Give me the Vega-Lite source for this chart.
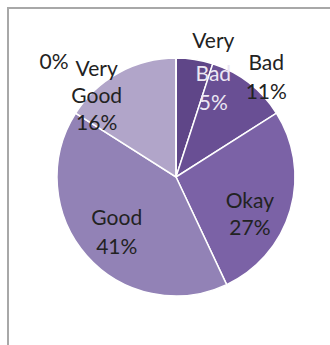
{
  "$schema": "https://vega.github.io/schema/vega-lite/v6.json",
  "width": 336,
  "height": 338,
  "autosize": {"type": "none"},
  "padding": {"left": 8, "top": 8, "right": -14, "bottom": -1},
  "background": "#ffffff",
  "view": {"stroke": "#a8a8a8", "strokeWidth": 2, "fill": "#ffffff"},
  "config": {
    "view": {"stroke": "#a8a8a8", "strokeWidth": 2},
    "text": {"font": "Lato", "fontSize": 21, "lineBreak": " ", "lineHeight": 28, "fill": "#222222", "baseline": "middle", "align": "center"}
  },
  "data": {
    "values": [
      {"rating": "Very Bad", "pct": 5, "rank": 1},
      {"rating": "Bad", "pct": 11, "rank": 2},
      {"rating": "Okay", "pct": 27, "rank": 3},
      {"rating": "Good", "pct": 41, "rank": 4},
      {"rating": "Very Good", "pct": 16, "rank": 5},
      {"rating": "", "pct": 0, "rank": 6}
    ]
  },
  "transform": [
    {"calculate": "datum.rating == '' ? datum.pct + '%' : datum.rating + ' ' + datum.pct + '%'", "as": "label"},
    {"calculate": "split(datum.rating, ' ')[0]", "as": "first"},
    {"calculate": "split(datum.rating, ' ')[1] + ' ' + datum.pct + '%'", "as": "rest"}
  ],
  "encoding": {
    "theta": {"field": "pct", "type": "quantitative", "stack": true},
    "order": {"field": "rank", "type": "quantitative"},
    "color": {
      "field": "rating",
      "type": "nominal",
      "legend": null,
      "scale": {
        "domain": ["Very Bad", "Bad", "Okay", "Good", "Very Good", ""],
        "range": ["#5f4688", "#694f94", "#7b62a6", "#9282b6", "#b1a5c9", "#cfc8de"]
      }
    }
  },
  "layer": [
    {"mark": {"type": "arc", "outerRadius": 119, "stroke": "#ffffff", "strokeWidth": 1.5}},
    {
      "transform": [{"calculate": "datum.rating == 'Very Bad' ? datum.first : ''", "as": "t"}],
      "mark": {"type": "text", "radius": 104, "dx": 21, "dy": -32},
      "encoding": {"text": {"field": "t"}, "color": {"value": "#222222"}}
    },
    {
      "transform": [{"calculate": "datum.rating == 'Very Bad' ? datum.rest : ''", "as": "t"}],
      "mark": {"type": "text", "radius": 104, "dx": 21, "dy": 1, "lineHeight": 29},
      "encoding": {"text": {"field": "t"}, "color": {"value": "#ece7f3"}}
    },
    {
      "transform": [{"calculate": "datum.rating == 'Bad' ? datum.label : ''", "as": "t"}],
      "mark": {"type": "text", "radius": 126, "dx": 13, "dy": -13, "lineHeight": 29},
      "encoding": {"text": {"field": "t"}, "color": {"value": "#222222"}}
    },
    {
      "transform": [{"calculate": "datum.rating == 'Okay' ? datum.label : ''", "as": "t"}],
      "mark": {"type": "text", "radius": 78, "dx": -1, "dy": 3, "lineHeight": 27},
      "encoding": {"text": {"field": "t"}, "color": {"value": "#222222"}}
    },
    {
      "transform": [{"calculate": "datum.rating == 'Good' ? datum.label : ''", "as": "t"}],
      "mark": {"type": "text", "radius": 79, "dy": -10, "lineHeight": 29},
      "encoding": {"text": {"field": "t"}, "color": {"value": "#222222"}}
    },
    {
      "transform": [{"calculate": "datum.rating == 'Very Good' ? datum.label : ''", "as": "t"}],
      "mark": {"type": "text", "radius": 92, "dx": -35, "dy": -26, "lineHeight": 27},
      "encoding": {"text": {"field": "t"}, "color": {"value": "#222222"}}
    },
    {
      "transform": [{"calculate": "datum.rating == '' ? datum.label : ''", "as": "t"}],
      "mark": {"type": "text", "radius": 117, "dx": -122, "dy": 3},
      "encoding": {"text": {"field": "t"}, "color": {"value": "#222222"}}
    }
  ]
}
